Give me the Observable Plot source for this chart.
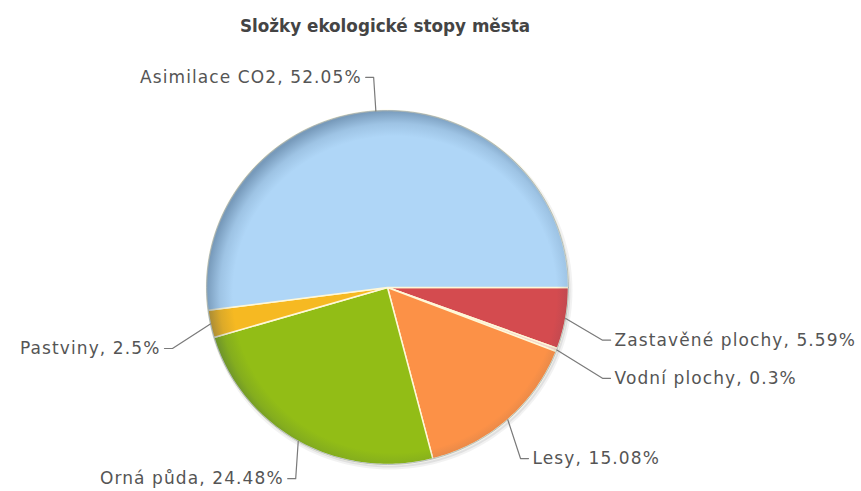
<!DOCTYPE html>
<html>
<head>
<meta charset="utf-8">
<script src="https://cdn.jsdelivr.net/npm/d3@7"></script>
<script src="https://cdn.jsdelivr.net/npm/@observablehq/plot@0.6"></script>
<style>
  body { margin: 0; background: #fff; font-family: "DejaVu Sans", Verdana, sans-serif; }
  #title { box-sizing: border-box; width: 770px; height: 40px; padding-top: 16px; line-height: 20px;
           text-align: center; font-size: 16.8px; font-weight: bold; color: #444; }
  #chart svg text { letter-spacing: 1.1px; }
</style>
</head>
<body>
<div id="title">Složky ekologické stopy města</div>
<div id="chart"></div>
<script>
// ---- data ----
const names  = ["Zastavěné plochy", "Vodní plochy", "Lesy", "Orná půda", "Pastviny", "Asimilace CO2"];
const values = [5.59, 0.3, 15.08, 24.48, 2.5, 52.05];
const valueLabels = ["5.59%", "0.3%", "15.08%", "24.48%", "2.5%", "52.05%"];
const colors = ["#d44b4f", "#f3d6cc", "#fc9147", "#92bd16", "#f6b922", "#afd6f7"];
// label placement (layout only): angle nudge in degrees and elbow radius
const labelNudge  = [4.0, 2.7, 4.4, -4.4, -4.3, 0];
const labelRadius = [1.225, 1.294, 1.214, 1.193, 1.237, 1.19];

// ---- layout ----
const W = 861, H = 451;
const CX = 387, CY = 247, RX = 181, RY = 177;
const HSEG = 8;
const rad = d => d * Math.PI / 180;

const total = d3.sum(values);
let acc = 0;
const slicePts = [];
const leaders = [];
const labels = [];
names.forEach((name, i) => {
  const a0 = acc / total * 360;
  acc += values[i];
  const a1 = acc / total * 360;
  const n = Math.max(2, Math.ceil(a1 - a0));
  slicePts.push({name, x: 0, y: 0});
  for (let k = 0; k <= n; k++) {
    const a = rad(a0 + (a1 - a0) * k / n);
    slicePts.push({name, x: Math.cos(a), y: Math.sin(a)});
  }
  slicePts.push({name, x: 0, y: 0});
  const mid = (a0 + a1) / 2;
  const ea = mid + labelNudge[i];
  const ex = labelRadius[i] * Math.cos(rad(ea)), ey = labelRadius[i] * Math.sin(rad(ea));
  const side = Math.cos(rad(ea)) >= 0 ? 1 : -1;
  const hx = ex + side * HSEG / RX;
  leaders.push({name, x: Math.cos(rad(mid)), y: Math.sin(rad(mid))});
  leaders.push({name, x: ex, y: ey});
  leaders.push({name, x: hx, y: ey});
  labels.push({name, x: hx, y: ey, side, text: `${name}, ${valueLabels[i]}`});
});
const ring = d3.range(0, 361, 2).map(a => ({x: Math.cos(rad(a)), y: Math.sin(rad(a))}));

const plot = Plot.plot({
  width: W, height: H, margin: 0,
  x: {domain: [-1, 1], range: [CX - RX, CX + RX], axis: null},
  y: {domain: [-1, 1], range: [CY - RY, CY + RY], axis: null},
  color: {domain: names, range: colors},
  style: {fontFamily: "'DejaVu Sans', Verdana, sans-serif", background: "#fff", overflow: "visible"},
  marks: [
    Plot.line(ring, {x: "x", y: "y", fill: "#000", fillOpacity: 0.07, stroke: "#000", strokeOpacity: 0.05, strokeWidth: 4, dx: 2, dy: 3}),
    Plot.line(slicePts, {x: "x", y: "y", z: "name", fill: "name", stroke: "#fff8d8", strokeWidth: 1.5, strokeLinejoin: "round"}),
    Plot.line(ring, {x: "x", y: "y", fill: "url(#pieBevel)", stroke: "#8aa0b4", strokeOpacity: 0.6, strokeWidth: 1}),
    Plot.line(leaders, {x: "x", y: "y", z: "name", stroke: "#7a7a7a", strokeWidth: 1.2}),
    Plot.text(labels, {filter: d => d.side > 0, x: "x", y: "y", text: "text", dx: 4, textAnchor: "start", fontSize: 17, fill: "#555"}),
    Plot.text(labels, {filter: d => d.side < 0, x: "x", y: "y", text: "text", dx: -4, textAnchor: "end", fontSize: 17, fill: "#555"})
  ]
});

const defs = d3.select(plot).insert("defs", ":first-child");
const g = defs.append("radialGradient").attr("id", "pieBevel").attr("cx", "52%").attr("cy", "52%").attr("r", "52%");
g.append("stop").attr("offset", "0.86").attr("stop-color", "#1e3a5a").attr("stop-opacity", 0);
g.append("stop").attr("offset", "0.93").attr("stop-color", "#1e3a5a").attr("stop-opacity", 0.12);
g.append("stop").attr("offset", "1").attr("stop-color", "#1e3a5a").attr("stop-opacity", 0.38);

document.getElementById("chart").appendChild(plot);
</script>
</body>
</html>
